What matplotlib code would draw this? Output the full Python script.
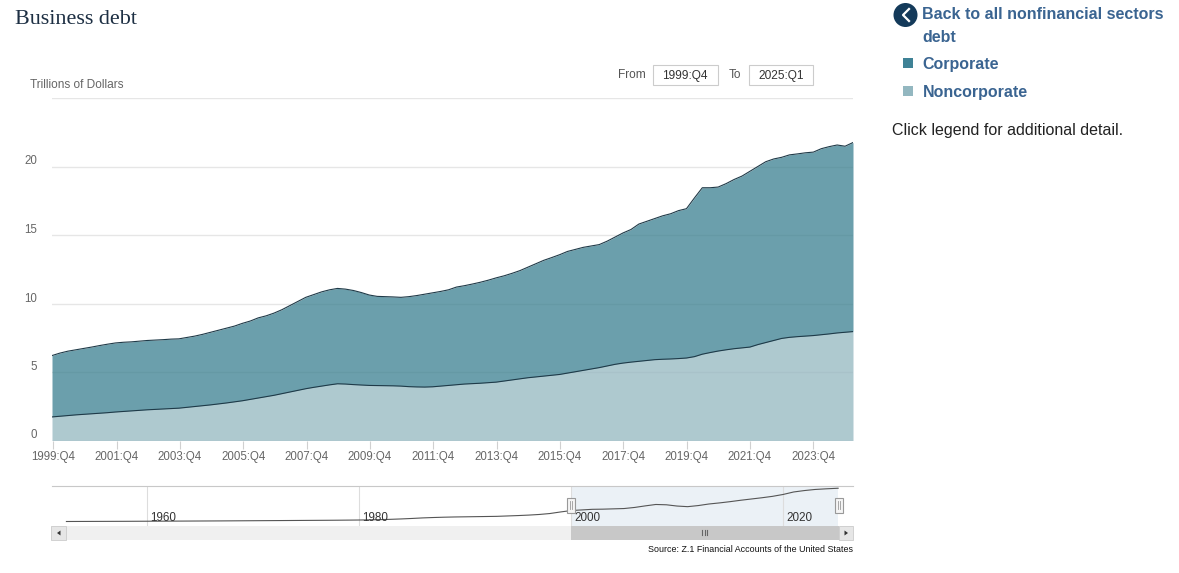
import matplotlib
matplotlib.use("Agg")
import matplotlib.pyplot as plt
from matplotlib.patches import Rectangle, Circle
from matplotlib.transforms import ScaledTranslation

W, H = 1179, 573
plt.rcParams['font.family'] = ['Liberation Sans', 'DejaVu Sans']

# total of both series, one value per quarter from 1999:Q4 to 2025:Q1
total = [6.2,
         6.38, 6.52, 6.62, 6.72,
         6.82, 6.93, 7.03, 7.12,
         7.17, 7.2, 7.25, 7.3,
         7.33, 7.36, 7.4, 7.42,
         7.52, 7.62, 7.75, 7.9,
         8.05, 8.2, 8.35, 8.55,
         8.72, 8.95, 9.1, 9.3,
         9.55, 9.85, 10.15, 10.45,
         10.65, 10.85, 11.0, 11.1,
         11.05, 10.95, 10.8, 10.62,
         10.52, 10.5, 10.48, 10.45,
         10.5, 10.58, 10.68, 10.78,
         10.88, 11.0, 11.2, 11.3,
         11.42, 11.55, 11.7, 11.87,
         12.02, 12.2, 12.4, 12.65,
         12.9, 13.15, 13.35, 13.56,
         13.8, 13.95, 14.1, 14.2,
         14.3, 14.55, 14.85, 15.15,
         15.4, 15.8, 16.0, 16.2,
         16.4, 16.55, 16.78, 16.92,
         17.7, 18.45, 18.45, 18.5,
         18.75, 19.05, 19.3, 19.65,
         20.0, 20.35, 20.55, 20.67,
         20.85, 20.92, 21.0, 21.05,
         21.3, 21.45, 21.57, 21.48,
         21.75]
noncorporate = [1.72,
                1.77, 1.82, 1.87, 1.91,
                1.95, 1.99, 2.03, 2.08,
                2.12, 2.16, 2.2, 2.24,
                2.27, 2.3, 2.33, 2.36,
                2.42, 2.48, 2.54, 2.6,
                2.67, 2.74, 2.82, 2.9,
                3.0, 3.1, 3.2, 3.3,
                3.42, 3.54, 3.66, 3.78,
                3.88, 3.97, 4.06, 4.14,
                4.12, 4.08, 4.05, 4.02,
                4.01, 4.0, 3.99, 3.97,
                3.93, 3.91, 3.9, 3.92,
                3.97, 4.02, 4.07, 4.12,
                4.15, 4.18, 4.22, 4.26,
                4.34, 4.42, 4.5, 4.58,
                4.64, 4.7, 4.76, 4.82,
                4.92, 5.02, 5.12, 5.22,
                5.32, 5.44, 5.56, 5.65,
                5.72, 5.78, 5.84, 5.9,
                5.93, 5.95, 5.98, 6.02,
                6.12, 6.3, 6.42, 6.53,
                6.62, 6.7, 6.76, 6.82,
                7.0, 7.15, 7.3, 7.45,
                7.53, 7.58, 7.62, 7.66,
                7.72, 7.78, 7.85, 7.9,
                7.95]

quarters = list(range(len(total)))
# ticks sit slightly right of the quarter at the left end in the original
tick_pos = [0.16 + i * 0.9982 for i in quarters[::8]]
tick_labels = [f"{1999 + i // 4}:Q4" for i in quarters[::8]]

# navigator series, one value per year
nav_years = list(range(1952, 2026))
nav_years[0] = 1952.4
nav_years[-1] = 2025.2
nav_values = [0.3, 0.32, 0.34, 0.36, 0.38, 0.4, 0.42, 0.45,
              0.48, 0.5, 0.53, 0.56, 0.59, 0.62, 0.65, 0.68, 0.72, 0.76,
              0.8, 0.84, 0.88, 0.92, 0.96, 1.0, 1.04, 1.08, 1.13, 1.19,
              1.25, 1.35, 1.5, 1.7, 1.95, 2.25, 2.6, 2.85, 3.05, 3.2,
              3.3, 3.4, 3.5, 3.6, 3.85, 4.1, 4.4, 4.8, 5.4, 6.4,
              7.3, 7.7, 8.1, 8.2, 8.4, 8.6, 9.3, 10.3, 11.2, 11.0,
              10.2, 9.8, 10.5, 11.5, 12.2, 13.0, 13.9, 14.7, 15.5, 16.4,
              17.6, 19.2, 20.1, 20.8, 21.2, 21.6]


def px_axes(fig, left, top, right, bottom):
    return fig.add_axes([left / W, 1 - bottom / H, (right - left) / W, (bottom - top) / H])


fig = plt.figure(figsize=(W / 100, H / 100), dpi=100)

# main chart
ax = px_axes(fig, 52, 98, 853, 440.5)
ax.fill_between(quarters, 0, noncorporate, color='#93b7c0', alpha=0.75, linewidth=0, zorder=2)
ax.fill_between(quarters, noncorporate, total, color='#3a7f90', alpha=0.75, linewidth=0, zorder=2)
ax.plot(quarters, noncorporate, color='#1f3a48', linewidth=0.8, zorder=3)
ax.plot(quarters, total, color='#1f3a48', linewidth=0.8, zorder=3)
ax.set_xlim(0, 101)
ax.set_ylim(0, 25)
ax.set_yticks([0, 5, 10, 15, 20, 25])
ax.set_yticklabels(['0', '5', '10', '15', '20', ''])
ax.set_xticks(tick_pos)
ax.set_xticklabels(tick_labels)
ax.grid(axis='y', color='#e6e6e6', linewidth=1, zorder=1)
ax.set_axisbelow(True)
ax.tick_params(axis='y', length=0, pad=10.8, labelsize=8.3, labelcolor='#666666')
ax.tick_params(axis='x', length=5.8, width=0.8, color='#d0d0d0', pad=1.5, labelsize=8.3, labelcolor='#666666')
down = ScaledTranslation(0, -1 / 100, fig.dpi_scale_trans)
for lab in ax.get_yticklabels():
    lab.set_va('bottom')
    lab.set_transform(lab.get_transform() + down)
for s in ax.spines.values():
    s.set_visible(False)

# navigator
nav = px_axes(fig, 52, 486, 853, 526)
nav.axvspan(2000, 2025.2, color='#e9f0f6', alpha=0.9, linewidth=0, zorder=0)
nav.plot(nav_years, nav_values, color='#555555', linewidth=0.8, zorder=3)
nav.set_xlim(1951.04, 2026.6)
nav.set_ylim(-2.58, 23.03)
nav.set_yticks([])
nav.set_xticks([1960, 1980, 2000, 2020])
nav.set_xticklabels([])
nav.grid(axis='x', color='#dddddd', linewidth=0.8, zorder=1)
nav.tick_params(length=0)
for s in nav.spines.values():
    s.set_visible(False)
nav.spines['top'].set_visible(True)
nav.spines['top'].set_color('#c8c8c8')
for yr in [1960, 1980, 2000, 2020]:
    nav.annotate(str(yr), (yr, 0), xycoords=('data', 'axes fraction'), xytext=(2.5, 3.5),
                 textcoords='offset points', fontsize=8.4, color='#333333', zorder=4)

# page furniture, positioned in pixels on an overlay
ui = fig.add_axes([0, 0, 1, 1], zorder=5)
ui.set_xlim(0, W)
ui.set_ylim(H, 0)
ui.axis('off')
ui.patch.set_alpha(0)

ui.text(15, 19, "Business debt", family=['Liberation Serif', 'DejaVu Serif'], fontsize=15.9,
        color='#1d2f43', va='center')
ui.text(30, 85.5, "Trillions of Dollars", fontsize=8.6, color='#666666', va='center')

# date range boxes
ui.text(618, 74.5, "From", fontsize=8.6, color='#555555', va='center')
ui.text(729, 74.5, "To", fontsize=8.6, color='#555555', va='center')
for x0, x1, txt in [(653, 717.5, "1999:Q4"), (749, 813, "2025:Q1")]:
    ui.add_patch(Rectangle((x0, 64.5), x1 - x0, 20.5, facecolor='white', edgecolor='#cccccc', linewidth=0.8))
    ui.text((x0 + x1) / 2, 75.5, txt, fontsize=8.6, color='#333333', ha='center', va='center')

# legend on the right
blue = '#3a6491'
ui.add_patch(Circle((905.5, 15), 12, facecolor='#143a5a', edgecolor='none'))
ui.plot([909, 903, 909], [9, 15, 21], color='white', linewidth=1.6)
ui.text(922.5, 14.5, "Back to all nonfinancial sectors", fontsize=11.5, fontweight='bold', color=blue, va='center')
ui.text(922.5, 37.5, "debt", fontsize=11.5, fontweight='bold', color=blue, va='center')
ui.add_patch(Rectangle((903, 58), 10, 10, facecolor='#3f8296', edgecolor='none'))
ui.text(922.5, 64.5, "Corporate", fontsize=11.5, fontweight='bold', color=blue, va='center')
ui.add_patch(Rectangle((903, 86), 10, 10, facecolor='#93b7c0', edgecolor='none'))
ui.text(922.5, 92.5, "Noncorporate", fontsize=11.5, fontweight='bold', color=blue, va='center')
ui.text(892.5, 130.5, "Click legend for additional detail.", fontsize=11.5, color='#222222', va='center')

# scrollbar under the navigator
ui.add_patch(Rectangle((51, 526), 802, 14, facecolor='#f0f0f0', edgecolor='none'))
ui.add_patch(Rectangle((571, 526), 268, 14, facecolor='#c8c8c8', edgecolor='none'))
for x0 in (51, 838.5):
    ui.add_patch(Rectangle((x0, 526), 14.5, 14, facecolor='#e6e6e6', edgecolor='#cccccc', linewidth=0.6))
ui.fill([60.5, 57, 60.5], [530.5, 533, 535.5], color='#333333', linewidth=0)
ui.fill([844.5, 848, 844.5], [530.5, 533, 535.5], color='#333333', linewidth=0)
for x0 in (702, 704.5, 707):
    ui.plot([x0, x0], [529.5, 535], color='#666666', linewidth=0.8)

# navigator handles
for cx in (571, 838.5):
    ui.add_patch(Rectangle((cx - 4, 497.5), 8, 15, facecolor='#f5f5f5', edgecolor='#999999', linewidth=0.8))
    ui.plot([cx - 1, cx - 1], [501, 509], color='#999999', linewidth=0.6)
    ui.plot([cx + 1, cx + 1], [501, 509], color='#999999', linewidth=0.6)

ui.text(853, 549, "Source: Z.1 Financial Accounts of the United States", fontsize=6.4, color='#111111',
        ha='right', va='center')

fig.savefig("out.png", dpi=100)
